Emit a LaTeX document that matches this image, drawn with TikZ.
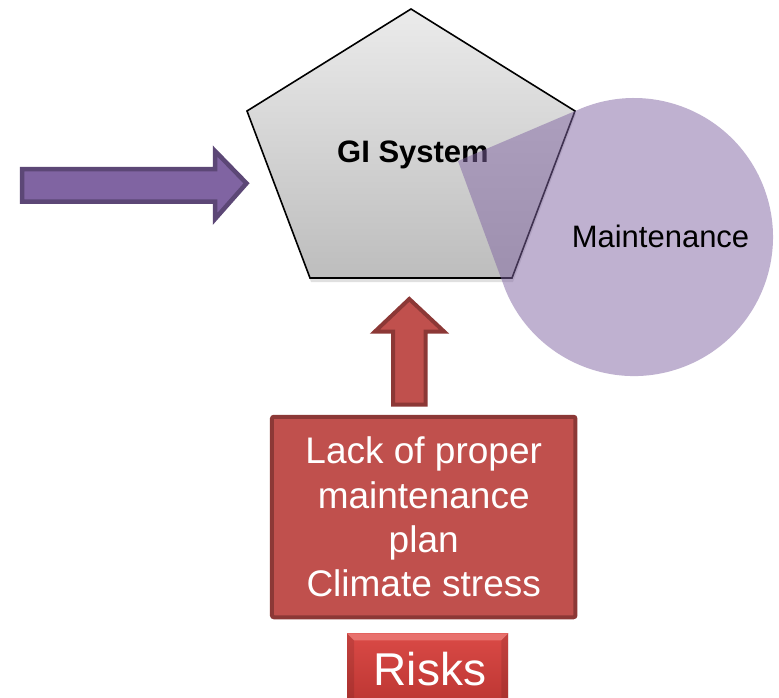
\documentclass[tikz,border=0pt]{standalone}
\usepackage{fontspec}
\setmainfont{Liberation Sans}
\definecolor{purfill}{HTML}{8064A2}
\definecolor{purline}{HTML}{5C4776}
\definecolor{redfill}{HTML}{C0504D}
\definecolor{redline}{HTML}{8C3836}
\definecolor{pentop}{HTML}{EBEBEB}
\definecolor{penbot}{HTML}{BDBDBD}
\definecolor{risktop}{HTML}{DA4A46}
\definecolor{riskbot}{HTML}{B83330}
\definecolor{riskbevel}{HTML}{E8716D}
\begin{document}
\begin{tikzpicture}[x=1pt,y=-1pt,
  purparrow/.style={fill=purfill,draw=purline,line width=4.5pt,line join=miter},
  redarrow/.style={fill=redfill,draw=redline,line width=4pt,line join=miter},
  causebox/.style={fill=redfill,draw=redline,line width=4pt,rounded corners=2pt,
    minimum width=303.5pt,minimum height=200.5pt,inner sep=0pt,text=white,
    align=center,font=\fontsize{37}{44.3}\selectfont},
  riskbox/.style={top color=risktop,bottom color=riskbot,draw=none,
    minimum width=161pt,minimum height=80pt,inner sep=0pt},
  risktext/.style={text=white,font=\fontsize{46}{50}\selectfont,inner sep=0pt,anchor=base},
  pentstyle/.style={top color=pentop,bottom color=penbot,draw=black,line width=1.6pt,line join=miter},
  teardrop/.style={fill=purfill,fill opacity=0.5},
  bigtext/.style={font=\fontsize{31}{36}\selectfont,inner sep=0pt,anchor=base}
]
\useasboundingbox (0,0) rectangle (779,698);
\clip (0,0) rectangle (779,698);
\fill[white] (0,0) rectangle (779,698);

% purple input arrow
\draw[purparrow] (22,169) coordinate (pa1) -- (215,169) -- (215,151) -- (246.5,183.3) coordinate (patip)
  -- (215,219) -- (215,201.7) -- (22,201.7) -- cycle;

% red up arrow
\draw[redarrow] (393,404.7) -- (393,331.5) -- (375,331.5) -- (409.3,299) coordinate (ratip)
  -- (444,331.5) -- (425.7,331.5) -- (425.7,404.7) -- cycle;

% cause box
\node[causebox] (lackbox) at (423.7,517) {Lack of proper\\maintenance\\plan\\Climate stress};

% risks box
\node[riskbox] (risks) at (427.7,673.5) {};
\fill[riskbevel] (risks.north west) -- (risks.north east) -- ([shift={(-7,7)}]risks.north east)
  -- ([shift={(7,7)}]risks.north west) -- cycle;
\fill[black,opacity=0.10] (risks.north west) -- ([shift={(7,7)}]risks.north west) -- ([shift={(7,0)}]risks.south west) -- (risks.south west) -- cycle;
\fill[black,opacity=0.10] (risks.north east) -- ([shift={(-7,7)}]risks.north east) -- ([shift={(-7,0)}]risks.south east) -- (risks.south east) -- cycle;
\node[risktext] (riskslabel) at (430,685) {Risks};

% pentagon shadow
\fill[black,opacity=0.12] (411,12) -- (576,114) -- (513,282) -- (311,282) -- (248,114) -- cycle;
% pentagon
\draw[pentstyle] (411,9) coordinate (p1) -- (575,111) coordinate (p2) -- (512,278) coordinate (p3)
  -- (310,278) coordinate (p4) -- (247,111) coordinate (p5) -- cycle;
\node[bigtext,font=\fontsize{31}{36}\selectfont\bfseries] (gisys) at (413,162) {GI System};

% maintenance teardrop
\fill[teardrop] (458,161) coordinate (tdcorner) -- (505.1,289.1)
  arc[start angle=158,end angle=-112,radius=139] -- cycle;
\node[bigtext] (maint) at (660.5,247) {Maintenance};
\end{tikzpicture}
\end{document}
